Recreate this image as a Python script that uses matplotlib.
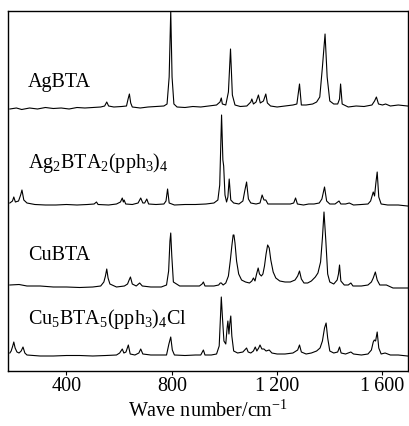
import matplotlib
matplotlib.use('Agg')
import matplotlib.pyplot as plt

plt.rcParams['font.family'] = ['Liberation Serif', 'DejaVu Serif']
plt.rcParams['mathtext.fontset'] = 'custom'
plt.rcParams['mathtext.rm'] = 'Liberation Serif'
plt.rcParams['mathtext.it'] = 'Liberation Serif:italic'

# spectra: wave number (cm-1) and intensity above own baseline (a.u.)
agbta_wn = [185, 210, 230, 260, 290, 320, 350, 380, 410, 440, 470, 500, 530, 545, 553, 560,
            580, 610, 628, 634, 639, 644, 650, 680, 710, 740, 770, 782, 790, 796, 801, 808,
            820, 850, 880, 910, 940, 970, 983, 988, 992, 1005, 1015, 1023, 1030, 1040, 1060,
            1085, 1100, 1104, 1110, 1120, 1129, 1136, 1148, 1157, 1163, 1175, 1200, 1230,
            1260, 1275, 1285, 1292, 1310, 1335, 1350, 1362, 1372, 1382, 1390, 1400, 1415,
            1430, 1437, 1441, 1447, 1470, 1500, 1530, 1560, 1570, 1577, 1585, 1600, 1612,
            1630, 1660, 1695]
agbta_int = [-2, -1, -2.5, -1, -2, -0.5, -1.5, -1, -2, -0.5, -1, -0.5, 0, 1, 5, 1,
             0, 0.5, 1, 8, 13, 4, 0, -1, 0, 0.5, 1, 3, 30, 96, 30, 3,
             0, -0.5, 0.5, 0, 1, 2, 5, 9, 3, 2, 15, 58, 12, 2, 0.5,
             1, 5, 8, 3, 5, 12, 4, 6, 13, 4, 1, 0, 1,
             2, 3, 23, 2, 2, 3, 5, 10, 40, 73, 30, 6, 3,
             3, 8, 23, 3, 0, 1, 0.5, 2, 6, 10, 3, 2, 3,
             1, 2, 1]

ag2_wn = [185, 195, 200, 206, 218, 226, 231, 238, 250, 280, 320, 360, 400, 440, 480, 505,
          514, 520, 560, 590, 605, 612, 616, 619, 625, 650, 672, 682, 690, 697, 705, 712,
          740, 770, 778, 784, 790, 810, 850, 890, 930, 960, 975, 982, 989, 994, 997, 1002,
          1008, 1013, 1018, 1024, 1035, 1055, 1070, 1077, 1084, 1091, 1100, 1120, 1135,
          1143, 1150, 1157, 1165, 1190, 1220, 1250, 1263, 1270, 1277, 1300, 1320, 1340,
          1360, 1370, 1380, 1388, 1400, 1420, 1435, 1442, 1460, 1474, 1490, 1520, 1545,
          1555, 1565, 1570, 1575, 1580, 1586, 1595, 1620, 1660, 1695]
ag2_int = [2, 4, 8, 3, 4, 10, 15, 5, 2, 0.5, 0, 0, 0.5, 0, 0.5, 1,
           3, 0.5, 0, 1, 3, 7, 3, 5, 1, 0.5, 2, 7, 2, 2, 6, 1,
           0.5, 1, 4, 16, 2, 0, 0.5, 0.5, 1, 2, 5, 20, 90, 45, 39, 10,
           3, 8, 26, 5, 2, 1, 4, 14, 23, 6, 2, 1, 2,
           10, 5, 5, 1, 1, 1, 1, 2, 7, 1, 0, 1, 1,
           2, 6, 18, 4, 1, 1, 4, 1, 1, 2, 0, 0.5, 1,
           4, 13, 9, 22, 33, 8, 1, 0, 0, -1]

cubta_wn = [185, 220, 250, 300, 350, 400, 450, 500, 530, 542, 548, 553, 558, 565, 590, 620,
            632, 638, 643, 650, 665, 678, 688, 720, 760, 780, 788, 793, 796, 800, 806, 830,
            880, 905, 915, 920, 926, 960, 978, 984, 988, 995, 1005, 1015, 1022, 1028, 1033,
            1036, 1040, 1046, 1054, 1065, 1080, 1095, 1104, 1110, 1116, 1122, 1128, 1133,
            1140, 1146, 1152, 1158, 1164, 1170, 1176, 1185, 1195, 1210, 1230, 1250, 1268,
            1278, 1285, 1292, 1302, 1316, 1330, 1345, 1355, 1365, 1372, 1378, 1385, 1392,
            1400, 1415, 1428, 1433, 1437, 1442, 1455, 1470, 1480, 1488, 1520, 1545, 1558,
            1565, 1573, 1580, 1590, 1615, 1640, 1670, 1695]
cubta_int = [1, 1.5, 0, 0, -1, -1, -1.5, -1, 0, 4, 10, 17, 8, 2, -1, 0,
             2, 6, 9, 2, 0, 3, 0, -1, -1, 1, 15, 45, 53, 30, 4, 0,
             0, 0, 2, 4, 0, 0, 1, 3, 3, 1, 3, 10, 25, 40, 51,
             51, 43, 25, 12, 6, 4, 3, 5, 8, 5, 12, 18, 12,
             10, 12, 20, 32, 41, 38, 26, 14, 8, 5, 4, 4, 6,
             10, 15, 7, 3, 3, 5, 9, 13, 24, 48, 74, 45, 12,
             4, 2, 6, 12, 21, 5, 1, 1, 3, 0, 0, 1, 4,
             8, 14, 6, 1, 1, -2, -2, -2]

cu5_wn = [185, 190, 196, 200, 205, 212, 220, 228, 235, 242, 250, 300, 350, 400, 450, 500,
          550, 590, 602, 612, 618, 626, 635, 642, 660, 675, 682, 690, 720, 760, 780, 789,
          796, 802, 810, 850, 890, 910, 920, 926, 950, 970, 980, 985, 988, 992, 998, 1005,
          1010, 1013, 1017, 1020, 1024, 1028, 1035, 1050, 1070, 1077, 1084, 1090, 1100,
          1110, 1117, 1123, 1130, 1135, 1142, 1150, 1158, 1170, 1180, 1200, 1230, 1260,
          1278, 1285, 1292, 1310, 1330, 1350, 1363, 1372, 1380, 1386, 1392, 1400, 1415,
          1430, 1437, 1443, 1460, 1480, 1490, 1520, 1545, 1558, 1565, 1569, 1574, 1580,
          1586, 1595, 1610, 1630, 1660, 1695]
cu5_int = [3, 5, 10, 14, 8, 4, 3, 5, 9, 3, 1, 0, 0, 0.5, 0.5, 0,
           0.5, 1, 3, 7, 3, 4, 11, 2, 1, 3, 7, 2, 1, 1, 1, 12,
           19, 6, 1, 0.5, 1, 1, 6, 1, 1, 2, 10, 40, 59, 40, 15, 12,
           28, 35, 22, 32, 40, 20, 5, 3, 4, 6, 8, 4, 3,
           5, 9, 5, 8, 11, 7, 7, 5, 6, 3, 2, 2, 3,
           6, 11, 4, 2, 3, 5, 8, 15, 28, 33, 18, 5, 3,
           4, 9, 3, 2, 4, 2, 1, 2, 6, 14, 16, 15, 24,
           8, 2, 3, 1, 1, 0]

labels = ['AgBTA', 'Ag$_2$BTA$_2$(pph$_3$)$_4$', 'CuBTA', 'Cu$_5$BTA$_5$(pph$_3$)$_4$Cl']
offsets = [264, 166, 85, 15]
label_y = [0.789, 0.564, 0.308, 0.131]

fig = plt.figure(figsize=(4.09, 4.26), dpi=100)
ax = fig.add_axes([8 / 409, 55 / 426, 400 / 409, 360 / 426])

spectra = [(agbta_wn, agbta_int), (ag2_wn, ag2_int), (cubta_wn, cubta_int), (cu5_wn, cu5_int)]
for (wn, inten), off, lab, ly in zip(spectra, offsets, labels, label_y):
    ax.plot(wn, [v + off for v in inten], color='black', lw=0.8)
    ax.text(0.05, ly, lab, transform=ax.transAxes, fontsize=14.5, va='baseline', ha='left')

ax.set_xlim(178, 1697)
ax.set_ylim(0, 360)
ax.set_yticks([])
ax.set_xticks([400, 800, 1200, 1600])
ax.set_xticklabels(['400', '800', '1\u2009200', '1\u2009600'])
ax.tick_params(axis='x', direction='out', length=3, width=0.8, labelsize=14.5, pad=1.5)
for s in ax.spines.values():
    s.set_linewidth(1.0)
ax.set_xlabel('Wave number/cm$^{-1}$', fontsize=14.5, labelpad=3)

fig.savefig('out.png', dpi=100)
